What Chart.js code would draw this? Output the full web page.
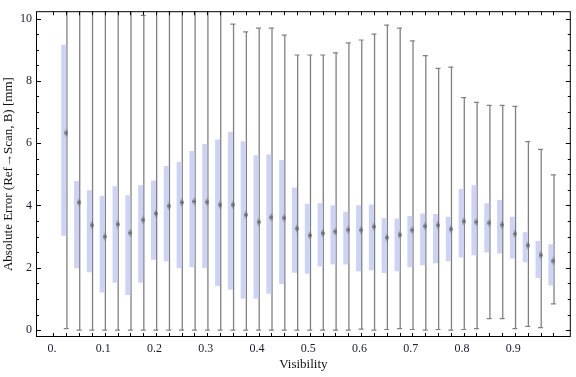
<!DOCTYPE html>
<html>
<head>
<meta charset="utf-8">
<script src="https://cdn.jsdelivr.net/npm/chart.js@4.4.1/dist/chart.umd.min.js"></script>
<style>
body { margin: 0; background: #fff; }
#wrap { width: 576px; height: 377px; }
</style>
</head>
<body>
<div id="wrap"><canvas id="myChart"></canvas></div>
<script>
// box positions on the Visibility axis
const positions = [0.028, 0.053, 0.078, 0.103, 0.128, 0.153, 0.178, 0.203, 0.228, 0.253,
  0.278, 0.303, 0.328, 0.353, 0.378, 0.403, 0.428, 0.453, 0.478, 0.503,
  0.528, 0.553, 0.578, 0.603, 0.628, 0.653, 0.678, 0.703, 0.728, 0.753,
  0.778, 0.803, 0.828, 0.853, 0.878, 0.903, 0.928, 0.953, 0.978];

const whiskerLow = [0.05, 0, 0, 0, 0, 0, 0, 0, 0, 0,
  0, 0, 0, 0, 0, 0, 0, 0, 0, 0,
  0, 0, 0, 0.03, 0, 0.02, 0.05, 0.02, 0, 0.02,
  0, 0.02, 0.05, 0.37, 0.37, 0.05, 0.12, 0.08, 0.84];
const boxLow = [3.03, 1.99, 1.86, 1.21, 1.52, 1.13, 1.52, 2.26, 2.20, 1.99,
  2.02, 1.99, 1.42, 1.30, 1.01, 1.01, 1.17, 1.48, 1.84, 1.81,
  2.04, 2.11, 2.11, 1.89, 1.92, 1.83, 1.89, 2.02, 2.08, 2.15,
  2.21, 2.33, 2.40, 2.49, 2.46, 2.30, 2.18, 1.67, 1.43];
const medians = [6.33, 4.10, 3.37, 3.00, 3.40, 3.12, 3.54, 3.74, 3.98, 4.10,
  4.13, 4.11, 4.02, 4.02, 3.70, 3.47, 3.62, 3.60, 3.26, 3.04,
  3.11, 3.16, 3.22, 3.21, 3.32, 2.97, 3.06, 3.21, 3.34, 3.37,
  3.24, 3.49, 3.47, 3.44, 3.38, 3.09, 2.72, 2.41, 2.22];
const boxHigh = [9.16, 4.79, 4.49, 4.31, 4.62, 4.33, 4.65, 4.80, 5.27, 5.40,
  5.75, 5.97, 6.12, 6.37, 6.06, 5.61, 5.64, 5.46, 4.58, 4.06,
  4.07, 4.01, 3.80, 4.01, 4.03, 3.60, 3.58, 3.66, 3.74, 3.73,
  3.64, 4.53, 4.65, 4.07, 4.18, 3.64, 3.14, 2.86, 2.76];
const whiskerHigh = [10.6, 10.6, 10.6, 10.6, 10.6, 10.6, 10.1, 10.6, 10.6, 10.6,
  10.6, 10.6, 10.6, 9.82, 9.57, 9.69, 9.69, 9.47, 8.83, 8.83,
  8.83, 8.90, 9.22, 9.31, 9.50, 9.79, 9.69, 9.28, 8.81, 8.40,
  8.44, 7.46, 7.31, 7.21, 7.21, 7.18, 6.05, 5.80, 4.98];

const xTicks = [0, 0.1, 0.2, 0.3, 0.4, 0.5, 0.6, 0.7, 0.8, 0.9];
const yTicks = [0, 2, 4, 6, 8, 10];

const xMin = -0.031, xMax = 1.012;
const yMin = -0.22, yMax = 10.235;

const boxColor = '#cdd3f6';
const lineColor = '#808080';
const serif = '"Liberation Serif", "Times New Roman", serif';

// soft elongated diamond used for the median
function medianMark() {
  const c = document.createElement('canvas');
  c.width = 4; c.height = 11;
  const g = c.getContext('2d');
  const grad = g.createLinearGradient(0, 0, 0, 11);
  grad.addColorStop(0, 'rgba(110,110,110,0)');
  grad.addColorStop(0.5, 'rgba(90,90,90,0.85)');
  grad.addColorStop(1, 'rgba(110,110,110,0)');
  g.fillStyle = grad;
  g.beginPath();
  g.moveTo(2, 0); g.lineTo(4, 5.5); g.lineTo(2, 11); g.lineTo(0, 5.5);
  g.closePath(); g.fill();
  return c;
}

// Mathematica style frame with inward ticks
const framePlugin = {
  id: 'frame',
  afterDatasetsDraw(chart) {
    const {ctx, chartArea: a, scales: {x, y}} = chart;
    ctx.save();
    ctx.strokeStyle = '#000';
    ctx.lineWidth = 1;
    ctx.beginPath();
    const step = positions[1] - positions[0];
    const xt = [positions[0] - step].concat(positions);
    xt.forEach(v => {
      const px = Math.round(x.getPixelForValue(v)) + 0.5;
      ctx.moveTo(px, a.bottom); ctx.lineTo(px, a.bottom - 4);
      ctx.moveTo(px, a.top); ctx.lineTo(px, a.top + 4);
    });
    for (let v = 0; v <= 10; v += 0.5) {
      const py = Math.round(y.getPixelForValue(v)) + 0.5;
      const len = yTicks.includes(v) ? 5 : 3;
      ctx.moveTo(a.left, py); ctx.lineTo(a.left + len, py);
      ctx.moveTo(a.right, py); ctx.lineTo(a.right - len, py);
    }
    ctx.stroke();
    ctx.strokeRect(a.left + 0.5, a.top + 0.5, a.right - a.left - 1, a.bottom - a.top - 1);
    ctx.restore();
  }
};

const capLow = positions.map((p, i) => ({x: p, y: whiskerLow[i]}));
const capHigh = positions.map((p, i) => ({x: p, y: whiskerHigh[i]})).filter(d => d.y <= yMax);

const ctx = document.getElementById('myChart').getContext('2d');
const myChart = new Chart(ctx, {
  type: 'bar',
  data: {
    datasets: [
      {
        label: 'whiskers',
        data: positions.map((p, i) => ({x: p, y: [whiskerLow[i], whiskerHigh[i]]})),
        backgroundColor: lineColor,
        barThickness: 1.3,
        inflateAmount: 0,
        clip: 0,
        order: 4
      },
      {
        label: 'boxes',
        data: positions.map((p, i) => ({x: p, y: [boxLow[i], boxHigh[i]]})),
        backgroundColor: boxColor,
        barThickness: 5,
        inflateAmount: 0,
        clip: 0,
        order: 3
      },
      {
        type: 'scatter',
        label: 'caps',
        data: capLow.concat(capHigh),
        pointStyle: 'line',
        radius: 2.5,
        borderWidth: 1.2,
        borderColor: lineColor,
        order: 2
      },
      {
        type: 'scatter',
        label: 'median',
        data: positions.map((p, i) => ({x: p, y: medians[i]})),
        pointStyle: medianMark(),
        order: 1
      }
    ]
  },
  options: {
    responsive: true,
    maintainAspectRatio: false,
    animation: false,
    layout: { padding: { top: 4, right: 0, left: 0, bottom: 0 } },
    plugins: { legend: { display: false }, tooltip: { enabled: false } },
    scales: {
      x: {
        type: 'linear',
        min: xMin, max: xMax,
        offset: false,
        grid: { display: false, drawTicks: false },
        border: { display: false },
        afterFit(scale) { scale.height = 40; },
        afterBuildTicks(scale) { scale.ticks = xTicks.map(v => ({value: v})); },
        ticks: {
          padding: 5,
          maxRotation: 0,
          color: '#1a1a2a',
          font: { family: serif, size: 12 },
          callback: v => v === 0 ? '0.' : v.toFixed(1)
        },
        title: {
          display: true,
          text: 'Visibility',
          color: '#111',
          font: { family: serif, size: 13 },
          padding: { top: 0, bottom: 5 }
        }
      },
      y: {
        min: yMin, max: yMax,
        grid: { display: false, drawTicks: false },
        border: { display: false },
        afterFit(scale) { scale.width = 36; },
        afterBuildTicks(scale) { scale.ticks = yTicks.map(v => ({value: v})); },
        ticks: {
          padding: 4,
          color: '#1a1a2a',
          font: { family: serif, size: 12 }
        },
        title: {
          display: true,
          text: 'Absolute Error (Ref\u2192Scan, B) [mm]',
          color: '#111',
          font: { family: serif, size: 13 },
          padding: { top: 1, bottom: 0 }
        }
      }
    }
  },
  plugins: [framePlugin]
});
</script>
</body>
</html>
